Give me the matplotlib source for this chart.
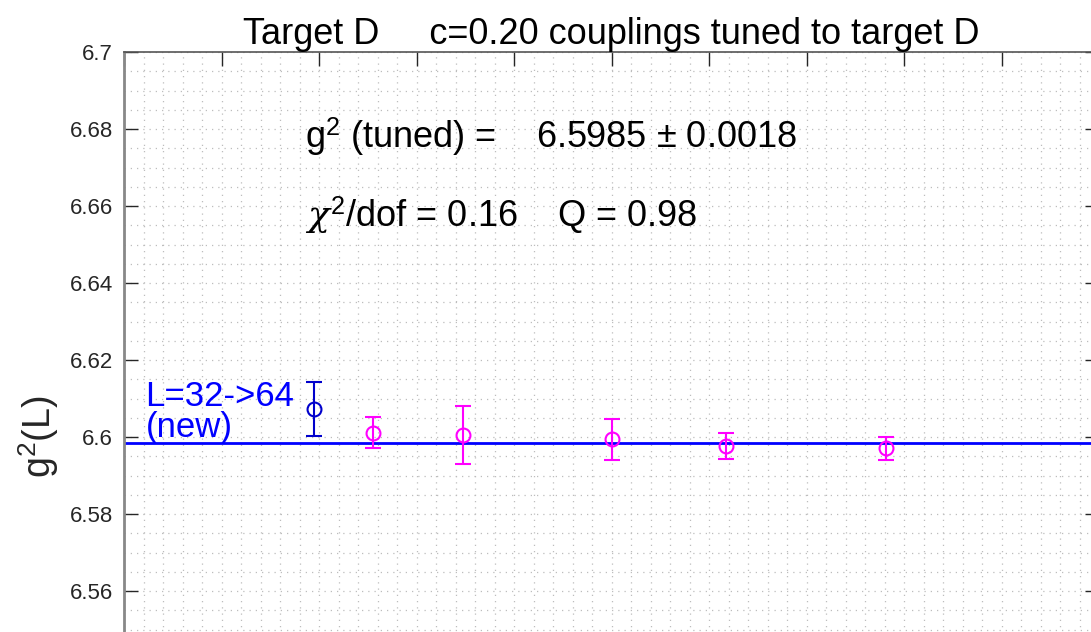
import numpy as np
import matplotlib
matplotlib.use("Agg")
import matplotlib.pyplot as plt
from matplotlib.ticker import MultipleLocator

plt.rcParams['font.family'] = ['Liberation Sans', 'DejaVu Sans']
plt.rcParams['mathtext.fontset'] = 'custom'
plt.rcParams['mathtext.rm'] = 'Liberation Sans'
plt.rcParams['mathtext.it'] = 'DejaVu Serif:italic'

# lattice sizes, x = 1/L^2
L_new = [32]
g2_new = [6.6073]
err_new = [0.0070]

L_old = [28, 24, 20, 18, 16]
g2_old = [6.6011, 6.6005, 6.5994, 6.5977, 6.5971]
err_old = [0.0040, 0.0075, 0.0053, 0.0033, 0.0030]

g2_tuned = 6.5985
g2_tuned_err = 0.0018
chi2_dof = 0.16
Q = 0.98


def main():
    fig = plt.figure(figsize=(10.91, 6.32), dpi=100)
    # axes runs past the bottom edge of the picture (the reference is cropped)
    ax = fig.add_axes([124 / 1091, 1 - 822 / 632, 975 / 1091, 770 / 632])

    x_new = 1.0 / np.array(L_new) ** 2
    x_old = 1.0 / np.array(L_old) ** 2

    ax.axhline(g2_tuned, color='blue', lw=2, zorder=2)
    ax.errorbar(x_new, g2_new, yerr=err_new, fmt='o', mfc='none', mec='#0000cc',
                ecolor='#0000cc', ms=10, mew=1.5, elinewidth=1.5, capsize=6,
                capthick=1.5, zorder=3)
    ax.errorbar(x_old, g2_old, yerr=err_old, fmt='o', mfc='none', mec='magenta',
                ecolor='magenta', ms=10, mew=1.5, elinewidth=1.5, capsize=6,
                capthick=1.5, zorder=3)

    ax.set_xlim(0, 0.005)
    ax.set_ylim(6.5, 6.7)
    ax.xaxis.set_major_locator(MultipleLocator(0.0005))
    ax.xaxis.set_minor_locator(MultipleLocator(0.0001))
    ax.yaxis.set_minor_locator(MultipleLocator(0.005))
    ax.set_yticks([6.56, 6.58, 6.6, 6.62, 6.64, 6.66, 6.68, 6.7])
    ax.set_yticklabels(['6.56', '6.58', '6.6', '6.62', '6.64', '6.66', '6.68', '6.7'])

    ax.grid(which='both', linestyle=(0, (1, 4)), color='#bdbdbd', lw=0.9)
    ax.tick_params(which='major', direction='in', length=10, width=1,
                   top=True, right=True, labelsize=16, colors='#262626', pad=8,
                   labelbottom=False)
    ax.tick_params(which='minor', length=0, top=True, right=True)
    for side, sp in ax.spines.items():
        sp.set_color('#555555')
        sp.set_linewidth(1.2)
    ax.spines['left'].set_color('#888888')
    ax.spines['left'].set_linewidth(2)

    ax.set_title('Target D     c=0.20 couplings tuned to target D',
                 fontsize=26, pad=4)
    ax.set_ylabel('g$^{2}$(L)', fontsize=27, labelpad=6, color='#262626')

    ax.text(0.00093, 6.6779,
            'g$^{2}$ (tuned) =    %.4f \u00b1 %.4f' % (g2_tuned, g2_tuned_err),
            fontsize=26, va='center')
    ax.text(0.00093, 6.6577,
            '$\\chi^{2}$/dof = %.2f    Q = %.2f' % (chi2_dof, Q),
            fontsize=26, va='center')
    ax.text(0.00011, 6.6065, 'L=32->64\n(new)', color='blue', fontsize=25,
            va='center', linespacing=0.92)

    fig.savefig('out.png', dpi=100)


if __name__ == '__main__':
    main()
